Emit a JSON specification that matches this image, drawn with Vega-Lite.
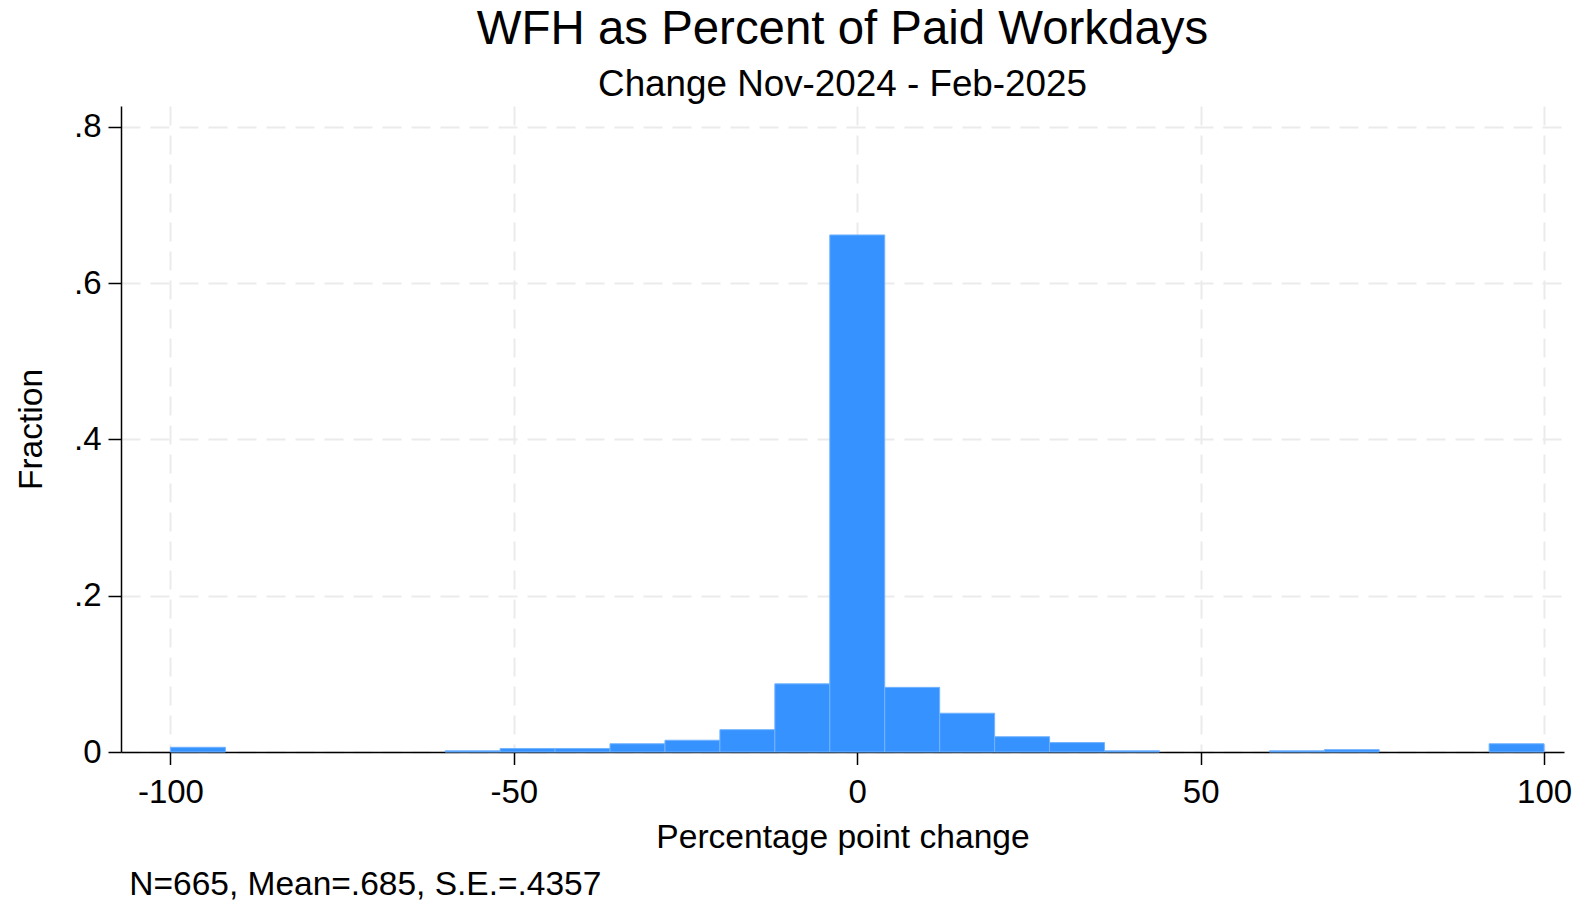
{
  "$schema": "https://vega.github.io/schema/vega-lite/v6.json",
  "width": 1443,
  "height": 646,
  "autosize": {"type": "none"},
  "padding": {"left": 121, "top": 106, "right": 13, "bottom": 149},
  "background": "white",
  "config": {
    "font": "Liberation Sans",
    "view": {"stroke": null}
  },
  "title": {
    "text": "WFH as Percent of Paid Workdays",
    "subtitle": "Change Nov-2024 - Feb-2025",
    "font": "Liberation Sans",
    "subtitleFont": "Liberation Sans",
    "fontSize": 47.4,
    "subtitleFontSize": 36.8,
    "fontWeight": "normal",
    "color": "#000000",
    "subtitleColor": "#000000",
    "anchor": "middle",
    "frame": "group",
    "offset": 1,
    "subtitlePadding": 13
  },
  "layer": [
    {
      "data": {
        "values": [
          {"bin_start": -100, "bin_end": -92, "fraction": 0.00602},
          {"bin_start": -60, "bin_end": -52, "fraction": 0.0015},
          {"bin_start": -52, "bin_end": -44, "fraction": 0.00451},
          {"bin_start": -44, "bin_end": -36, "fraction": 0.00451},
          {"bin_start": -36, "bin_end": -28, "fraction": 0.01053},
          {"bin_start": -28, "bin_end": -20, "fraction": 0.01504},
          {"bin_start": -20, "bin_end": -12, "fraction": 0.02857},
          {"bin_start": -12, "bin_end": -4, "fraction": 0.08722},
          {"bin_start": -4, "bin_end": 4, "fraction": 0.66165},
          {"bin_start": 4, "bin_end": 12, "fraction": 0.08271},
          {"bin_start": 12, "bin_end": 20, "fraction": 0.04962},
          {"bin_start": 20, "bin_end": 28, "fraction": 0.01955},
          {"bin_start": 28, "bin_end": 36, "fraction": 0.01203},
          {"bin_start": 36, "bin_end": 44, "fraction": 0.0015},
          {"bin_start": 60, "bin_end": 68, "fraction": 0.0015},
          {"bin_start": 68, "bin_end": 76, "fraction": 0.00301},
          {"bin_start": 92, "bin_end": 100, "fraction": 0.01053}
        ]
      },
      "mark": {"type": "bar", "color": "#3592ff", "stroke": "#72b3ff", "strokeWidth": 1, "opacity": 1},
      "encoding": {
        "x": {
          "field": "bin_start",
          "type": "quantitative",
          "scale": {"domain": [-107.2, 102.9], "nice": false, "zero": false},
          "axis": {
            "values": [-100, -50, 0, 50, 100],
            "labelExpr": "'' + datum.value",
            "title": "Percentage point change",
            "titleFontSize": 33.6,
            "titleFontWeight": "normal",
            "titleColor": "#000000",
            "titleBaseline": "alphabetic",
            "titleY": 95,
            "labelFontSize": 33,
            "labelColor": "#000000",
            "labelBaseline": "alphabetic",
            "labelPadding": 38,
            "labelFlush": false,
            "labelOverlap": false,
            "tickSize": 12.5,
            "tickWidth": 1.5,
            "tickColor": "#000000",
            "domainColor": "#000000",
            "domainWidth": 1.5,
            "grid": true,
            "gridColor": "#ebebeb",
            "gridWidth": 2,
            "gridDash": [19, 10]
          }
        },
        "x2": {"field": "bin_end"},
        "y": {
          "field": "fraction",
          "type": "quantitative",
          "scale": {"domain": [0, 0.8267], "nice": false},
          "axis": {
            "values": [0, 0.2, 0.4, 0.6, 0.8],
            "labelExpr": "datum.value == 0 ? '0' : substring(format(datum.value, '.1f'), 1)",
            "title": "Fraction",
            "titleFontSize": 33.5,
            "titleFontWeight": "normal",
            "titleColor": "#000000",
            "titleAngle": -90,
            "titleBaseline": "alphabetic",
            "titleAlign": "center",
            "titleX": -79.5,
            "titleY": 323,
            "labelFontSize": 33,
            "labelColor": "#000000",
            "labelBaseline": "middle",
            "labelPadding": 7,
            "labelFlush": false,
            "labelOverlap": false,
            "tickSize": 13,
            "tickWidth": 1.5,
            "tickColor": "#000000",
            "domainColor": "#000000",
            "domainWidth": 1.5,
            "grid": true,
            "gridColor": "#ebebeb",
            "gridWidth": 2,
            "gridDash": [19, 10]
          }
        },
        "y2": {"datum": 0}
      }
    },
    {
      "data": {"values": [{"note": "N=665, Mean=.685, S.E.=.4357"}]},
      "mark": {"type": "text", "align": "left", "baseline": "alphabetic", "fontSize": 33.5, "color": "#000000", "font": "Liberation Sans"},
      "encoding": {
        "x": {"datum": -106},
        "y": {"datum": -0.1836},
        "text": {"field": "note", "type": "nominal"}
      }
    }
  ]
}
